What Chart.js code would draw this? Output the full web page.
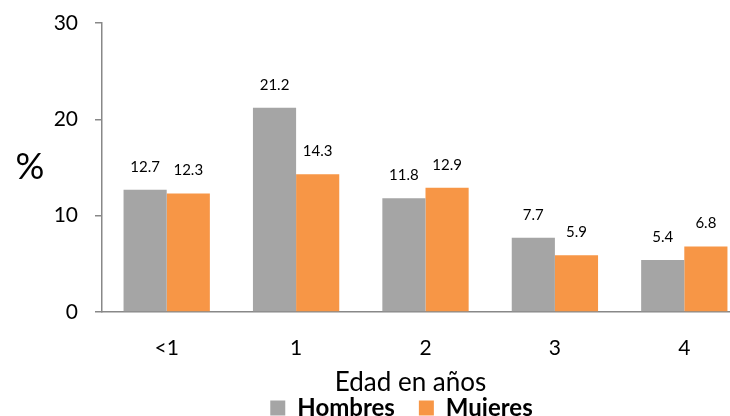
<!DOCTYPE html>
<html>
<head>
<meta charset="utf-8">
<script src="https://cdn.jsdelivr.net/npm/chart.js@4/dist/chart.umd.min.js"></script>
<style>
  html, body { margin: 0; padding: 0; background: #fff; overflow: hidden; }
  #wrap { width: 730px; height: 416px; overflow: hidden; position: relative; }
  canvas { display: block; }
</style>
</head>
<body>
<div id="wrap"><canvas id="c" width="749" height="416" style="width:749px;height:416px"></canvas></div>
<script>
const categories = ['<1', '1', '2', '3', '4'];
const hombres = [12.7, 21.2, 11.8, 7.7, 5.4];
const mujeres = [12.3, 14.3, 12.9, 5.9, 6.8];
const yTicks = [0, 10, 20, 30];
const seriesNames = ['Hombres', 'Mujeres'];
const xTitle = 'Edad en años';
const yTitle = '%';

const FONT = 'Lato, Carlito, Calibri, "Open Sans", sans-serif';

const valueLabels = {
  id: 'valueLabels',
  afterDatasetsDraw(chart) {
    const ctx = chart.ctx;
    ctx.save();
    ctx.font = '15px ' + FONT;
    ctx.fillStyle = '#000';
    ctx.textAlign = 'center';
    ctx.textBaseline = 'middle';
    chart.data.datasets.forEach((ds, i) => {
      const meta = chart.getDatasetMeta(i);
      meta.data.forEach((el, j) => {
        ctx.fillText(ds.data[j].toFixed(1), el.x, el.y - 23);
      });
    });
    ctx.restore();
  }
};

const axisTitles = {
  id: 'axisTitles',
  afterDraw(chart) {
    const ctx = chart.ctx;
    const a = chart.chartArea;
    ctx.save();
    ctx.fillStyle = '#000';
    ctx.textAlign = 'center';
    ctx.textBaseline = 'middle';
    ctx.font = '36px ' + FONT;
    ctx.fillText(yTitle, a.left - 72, (a.top + a.bottom) / 2);
    ctx.font = '26px ' + FONT;
    ctx.fillText(xTitle, (a.left + a.right) / 2 - 15, a.bottom + 71);
    ctx.restore();
  }
};

const legendTweak = {
  id: 'legendTweak',
  beforeInit(chart) {
    const lg = chart.legend;
    if (lg) {
      const orig = lg.fit;
      lg.fit = function () { orig.call(this); this.height = 20; };
    }
  },
  afterLayout(chart) {
    const lg = chart.legend;
    if (lg) {
      const p = lg.options.labels.padding;
      lg.top = lg.top - p;
      lg.left = 54;
    }
  }
};

new Chart(document.getElementById('c'), {
  type: 'bar',
  data: {
    labels: categories,
    datasets: [
      { label: seriesNames[0], data: hombres, backgroundColor: '#A5A5A5', borderWidth: 0 },
      { label: seriesNames[1], data: mujeres, backgroundColor: '#F79646', borderWidth: 0 }
    ]
  },
  options: {
    responsive: false,
    animation: false,
    events: [],
    layout: { padding: { top: 23, left: 0, right: 0, bottom: 0 } },
    categoryPercentage: 0.667,
    barPercentage: 1.0,
    scales: {
      x: {
        grid: { display: false },
        border: { display: true, color: '#888', width: 1.5 },
        ticks: { color: '#000', font: { family: FONT, size: 21 }, padding: 16 },
        title: { display: false },
        afterFit(scale) { scale.height = 84; }
      },
      y: {
        min: 0, max: 30,
        afterBuildTicks(scale) { scale.ticks = yTicks.map(v => ({ value: v })); },
        grid: { display: true, drawOnChartArea: false, drawTicks: true, tickLength: 7, color: '#888', lineWidth: 1.5 },
        border: { display: true, color: '#888', width: 1.5 },
        ticks: { color: '#000', font: { family: FONT, size: 21 }, padding: 17 },
        afterFit(scale) { scale.width = 102; scale.paddingTop = 0; scale.paddingBottom = 0; }
      }
    },
    plugins: {
      legend: {
        position: 'bottom',
        labels: { color: '#000', font: { family: FONT, size: 24, weight: 'bold' }, boxWidth: 15, boxHeight: 15, padding: 24 }
      },
      tooltip: { enabled: false }
    }
  },
  plugins: [valueLabels, axisTitles, legendTweak]
});
</script>
</body>
</html>
